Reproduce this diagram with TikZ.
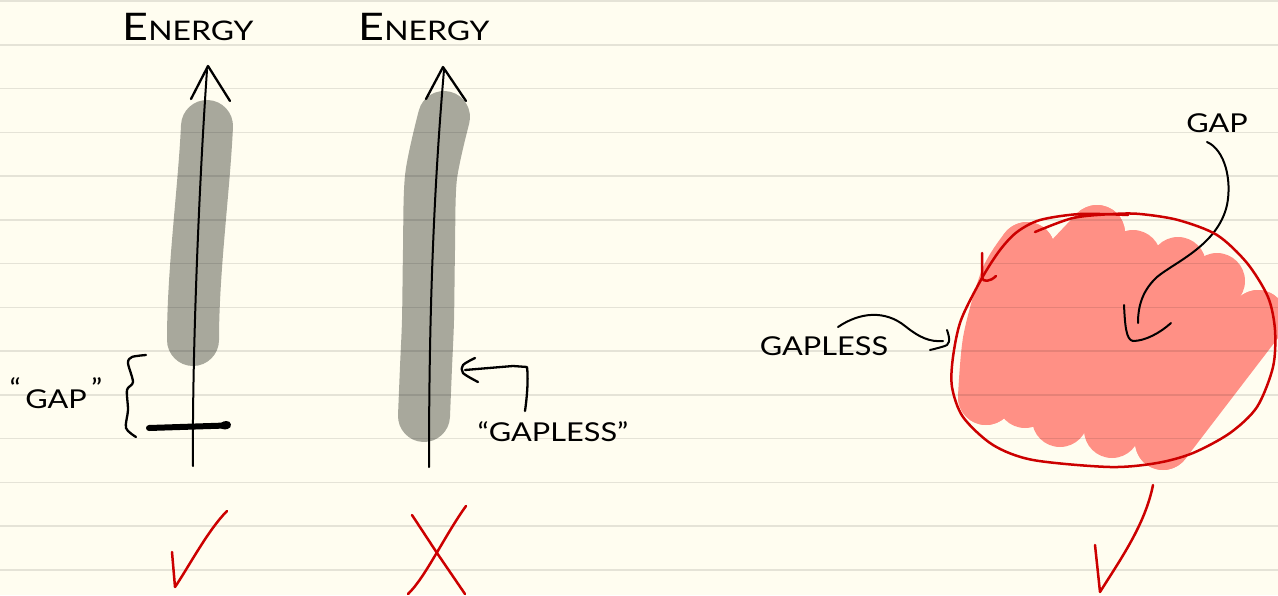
\documentclass[tikz,border=0pt]{standalone}
\usepackage{fontspec}
\newfontfamily\handfont[FakeStretch=1.18]{Lato}
\definecolor{paper}{HTML}{FFFDF0}
\definecolor{bandgray}{HTML}{A8A89C}
\definecolor{blobred}{HTML}{FF9085}
\definecolor{inkred}{HTML}{CC0000}

\begin{document}
\begin{tikzpicture}[
      x=1pt, y=-1pt,
      label/.style={inner sep=0pt, text=black, font=\handfont\fontsize{26}{30}\selectfont},
      ruled/.style={draw=black, opacity=0.1, line width=1.5pt},
      band/.style={draw=bandgray, line width=52pt, line cap=round, line join=round},
      ink/.style={draw=black, line width=2.3pt, line cap=round, line join=round},
      axis/.style={draw=black, line width=2pt, line cap=round},
      thinink/.style={draw=black, line width=2pt, line cap=round, line join=round},
      redink/.style={draw=inkred, line width=2.5pt, line cap=round, line join=round},
      blobpart/.style={draw=blobred, line width=56pt, line cap=round, line join=round}
    ]
    \useasboundingbox (0,0) rectangle (1278,595);
    \clip (0,0) rectangle (1278,595);
    \fill [paper] (0,0) rectangle (1278,595);

    \path [band] (207,126) .. controls (204,190) and (193,270) .. (193,340);
    \path [band] plot [smooth] coordinates {(444,117) (431,177) (429,250) (428,320) (426,367) (424,416)};

    \foreach \center in {(1027,250),(1097,233),(1133,258),(1178,265),(1217,281),(1258,318),
      (986,397),(1025,400),(1060,419),(1112,430),(1163,442)}
      \fill [blobred] \center circle (28);
    \fill [blobred] (1027,250) -- (1097,233) -- (1133,258) -- (1178,265) -- (1217,281) -- (1258,318)
      -- (1163,442) -- (1112,430) -- (1060,419) -- (1025,400) -- (986,397) -- cycle;
    \path [blobpart] plot [smooth] coordinates {(986,397) (991,340) (1008,280) (1027,250)};
    \path [blobpart] (1258,318) -- (1163,442);
    \path [blobpart] (1062,270) -- (1097,233);

    \foreach \n in {0,...,13}
      \draw [ruled] (0,{1+43.75*\n}) -- (1278,{1+43.75*\n});

    \node [label, font=\handfont] (energyone) at (188,27)
      {\fontsize{38}{40}\selectfont E\fontsize{27}{40}\selectfont NERGY};
    \node [label, font=\handfont] (energytwo) at (424,27)
      {\fontsize{38}{40}\selectfont E\fontsize{27}{40}\selectfont NERGY};
    \node [label] (gapquoted) at (56,393) {\raisebox{11pt}{“}\,GAP\,\raisebox{11pt}{”}};
    \node [label] (gaplessquoted) at (553,432) {“GAPLESS”};
    \node [label] (gapless) at (824,346) {GAPLESS};
    \node [label] (gap) at (1217,123) {GAP};

    \path [axis] (193,466) .. controls (192,370) and (198,200) .. (207,70);
    \path [ink] (191,99) -- (208,66) -- (230,101);
    \path [axis] (429,467) .. controls (429,360) and (431,220) .. (444,70);
    \path [ink] (426,99) -- (443,67) -- (466,101);

    \path [ink] plot [smooth] coordinates {(146,355) (132,357) (128,363) (133,382) (127,390)
      (128,410) (126,428) (136,437)};
    \path [draw=black, line width=6pt, line cap=round] (149,428) -- (226,425.5);
    \path [draw=black, line width=8pt, line cap=round] (224,425.5) -- (227,425);

    \path [ink] (525,411) .. controls (528,390) and (528,375) .. (527,367) -- (513,366) -- (465,370);
    \path [ink] plot [smooth] coordinates {(475,358) (463,365) (463,373) (478,382)};

    \path [thinink] (838,327) .. controls (860,312) and (885,310) .. (905,326)
      .. controls (920,338) and (930,342) .. (943,341);
    \path [thinink] plot [smooth] coordinates {(947,330) (949,338) (947,345) (930,350)};

    \path [thinink] (1207,142) .. controls (1225,150) and (1232,180) .. (1227,205)
      .. controls (1218,245) and (1175,262) .. (1157,277)
      .. controls (1143,290) and (1138,305) .. (1138,323);
    \path [thinink] (1124,305) .. controls (1125,325) and (1126,340) .. (1133,341)
      .. controls (1145,341) and (1160,333) .. (1171,323);

    \path [redink] plot [smooth] coordinates {(1035,232) (1073,218) (1113,214) (1140,214) (1178,220)
      (1217,235) (1247,263) (1268,297) (1275,330) (1273,367) (1257,407) (1230,433) (1193,453)
      (1157,463) (1110,467) (1033,460) (993,445) (963,417) (952,387) (953,357) (961,320) (982,278)
      (1000,250) (1017,232) (1040,220) (1080,214) (1128,215)};
    \path [redink] (982,253) -- (982,278) .. controls (983,282) and (990,282) .. (996,276);

    \path [redink] (172,552) -- (175,587) .. controls (188,568) and (208,530) .. (227,511);
    \path [redink] (412,515) -- (437,553) -- (465,594);
    \path [redink] (466,506) .. controls (445,535) and (425,578) .. (408,594);
    \path [redink] (1095,545) -- (1100,592) .. controls (1120,560) and (1145,525) .. (1153,485);
  \end{tikzpicture}
\end{document}
